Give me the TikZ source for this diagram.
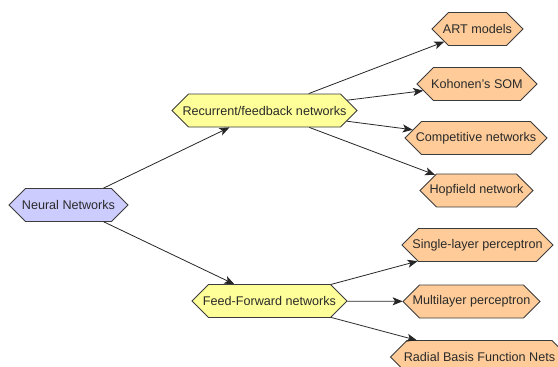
\documentclass[tikz,border=0pt]{standalone}
\usepackage{fontspec}
\setmainfont{Liberation Sans}
\usetikzlibrary{shapes.symbols,arrows.meta}
\definecolor{rootfill}{HTML}{CCCCFF}
\definecolor{midfill}{HTML}{FFFF99}
\definecolor{leaffill}{HTML}{FFCC99}
\definecolor{edgegray}{HTML}{3C3C3C}
\definecolor{textgray}{HTML}{2A2A2A}
\begin{document}
\begin{tikzpicture}[x=1pt,y=-1pt,
  hexnode/.style={signal, signal to=west and east, signal pointer angle=90,
    draw=edgegray, line width=0.8pt, minimum height=33pt, inner xsep=-8pt, inner ysep=0pt,
    text=textgray, font=\fontsize{12.6}{14}\selectfont},
  rootnode/.style={hexnode, fill=rootfill},
  midnode/.style={hexnode, fill=midfill},
  leafnode/.style={hexnode, fill=leaffill},
  conn/.style={draw=black!85, line width=0.8pt, -{Stealth[length=10pt,width=8pt,inset=2.5pt]}}
]
\useasboundingbox (0,0) rectangle (558,367);
\node[rootnode, minimum width=119pt] (nn) at (68.5,205) {Neural Networks};
\node[midnode, minimum width=185pt] (rec) at (264.5,110.5) {Recurrent/feedback networks};
\node[midnode, minimum width=155pt] (ff) at (269.5,301) {Feed-Forward networks};
\node[leafnode, minimum width=91pt] (art) at (477.5,29) {ART models};
\node[leafnode, minimum width=120pt] (koh) at (477,84) {Kohonen's SOM};
\node[leafnode, minimum width=142pt] (comp) at (476,138) {Competitive networks};
\node[leafnode, minimum width=113pt] (hop) at (476.5,190.5) {Hopfield network};
\node[leafnode, minimum width=151pt] (sl) at (477.5,245) {Single-layer perceptron};
\node[leafnode, minimum width=137pt] (ml) at (471.5,301.5) {Multilayer perceptron};
\node[leafnode, minimum width=178pt] (rb) at (479.5,357) {Radial Basis Function Nets};
\draw[conn] (nn) -- (rec);
\draw[conn] (nn) -- (ff);
\draw[conn] (rec) -- (art);
\draw[conn] (rec) -- (koh);
\draw[conn] (rec) -- (comp);
\draw[conn] (rec) -- (hop);
\draw[conn] (ff) -- (sl);
\draw[conn] (ff) -- (ml);
\draw[conn] (ff) -- (rb);
\end{tikzpicture}
\end{document}
